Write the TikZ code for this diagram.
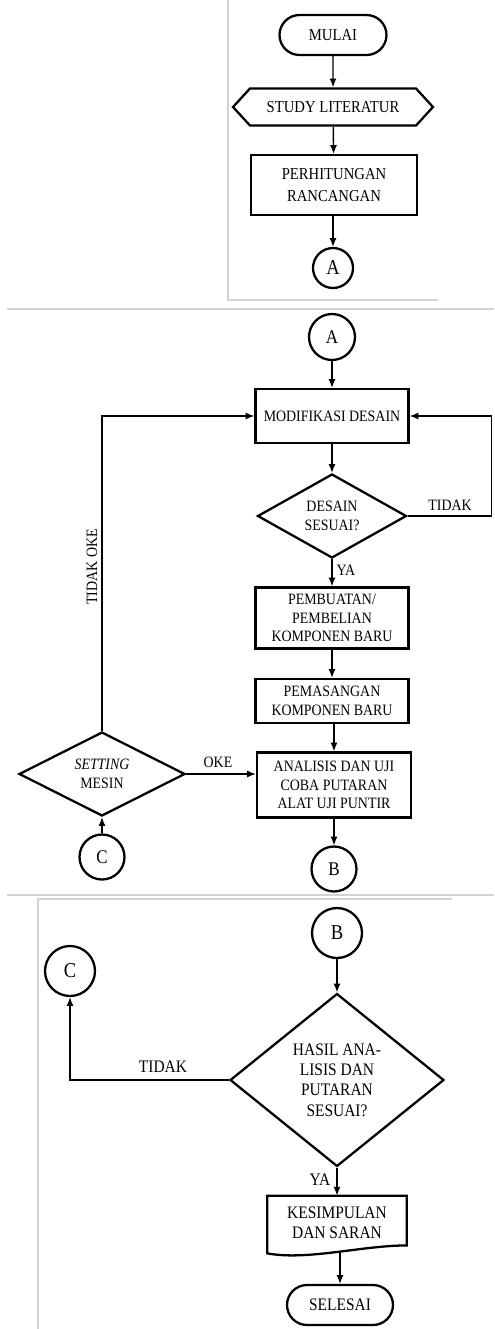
\documentclass[tikz,border=0pt]{standalone}
\usepackage{fontspec}
\setmainfont{Liberation Serif}[FakeStretch=0.88]
\usetikzlibrary{shapes.geometric,shapes.symbols,arrows.meta}
\begin{document}
\begin{tikzpicture}[x=0.02cm,y=-0.02cm,
  every node/.style={font=\fontsize{9}{10.5}\selectfont,align=center,inner sep=1pt},
  proses/.style={draw,line width=1.3pt,rectangle,minimum width=3.06cm},
  terminal/.style={draw,line width=1.3pt,rectangle,rounded corners=0.4cm,minimum height=0.8cm},
  keputusan/.style={draw,line width=1.3pt,diamond,inner sep=0pt},
  konektor/.style={draw,line width=1.3pt,circle,inner sep=0pt,font=\fontsize{12}{12}\selectfont},
  panah/.style={-{Latex[length=5pt,width=4pt]},line width=0.8pt},
  bingkai/.style={gray!35,line width=0.6pt}]
\useasboundingbox (0,0) rectangle (494,1329);
%
\draw[bingkai](228,0)--(228,300)--(438,300);
\draw[bingkai](7,309)--(494,309);
\draw[bingkai](7,895)--(494,895);
\draw[bingkai](452,899)--(38,899)--(38,1329);
%===========================
\node[terminal,minimum width=2.14cm,font=\fontsize{9.5}{11}\selectfont](mulai) at (333,35){MULAI};
\node[draw,line width=1.3pt,signal,signal to=west and east,signal pointer angle=95,
  minimum width=4cm,minimum height=0.74cm,inner sep=0pt,font=\fontsize{9.5}{11}\selectfont](studi) at (333,107){STUDY LITERATUR};
\node[proses,minimum width=3.32cm,minimum height=1.2cm,font=\fontsize{9.5}{13}\selectfont](hitung) at (334,185){PERHITUNGAN\\RANCANGAN};
\node[konektor,minimum size=0.8cm](ka) at (333,268){A};
\draw[panah](mulai)--(studi);
\draw[panah](studi)--(hitung);
\draw[panah](hitung.south-|ka)--(ka);
%===========================
\node[konektor,minimum size=0.92cm,font=\fontsize{11}{11}\selectfont](kaa) at (332,337){A};
\node[proses,minimum height=1.08cm](modif) at (332,416){MODIFIKASI DESAIN};
\node[keputusan,minimum width=2.98cm,minimum height=1.64cm](desain) at (332,516){DESAIN\\SESUAI?};
\node[proses,minimum height=1.22cm](buat) at (332,618){PEMBUATAN/\\PEMBELIAN\\KOMPONEN BARU};
\node[proses,minimum height=0.88cm](pasang) at (332,701){PEMASANGAN\\KOMPONEN BARU};
\node[proses,minimum width=3.08cm,minimum height=1.3cm](uji) at (334,785){ANALISIS DAN UJI\\COBA PUTARAN\\ALAT UJI PUNTIR};
\node[konektor,minimum size=0.9cm,font=\fontsize{11}{11}\selectfont](kb) at (334,869){B};
\node[keputusan,minimum width=3.32cm,minimum height=1.64cm](setting) at (102,774){\textit{SETTING}\\MESIN};
\node[konektor,minimum size=0.9cm,font=\fontsize{11}{11}\selectfont](kc) at (102,857){C};
%
\draw[panah](kaa)--(modif);
\draw[panah](modif)--(desain);
\draw[panah](desain.east)--++(84,0)|-(modif.east);
\node(ltidak) at (450,505){TIDAK};
\draw[panah](desain)--(buat);
\node(lya) at (346,570){YA};
\draw[panah](buat)--(pasang);
\draw[panah](pasang.south-|uji)--(uji);
\draw[panah](uji)--(kb);
\draw[panah](setting.east)--(setting.east-|uji.west);
\node(loke) at (218,762){OKE};
\draw[panah](setting.north)|-(modif.west);
\node[rotate=90](ltidakoke) at (92,567){TIDAK OKE};
\draw[panah](kc)--(setting.south);
%================================
\node[konektor,minimum size=1cm](kbb) at (337,933){B};
\node[konektor,minimum size=1cm](kcc) at (70,971){C};
\node[keputusan,minimum width=4.28cm,minimum height=3.46cm,font=\fontsize{10}{11.5}\selectfont](hasil) at (337,1080){HASIL ANA-\\LISIS DAN\\PUTARAN\\SESUAI?};
\node[minimum width=2.78cm,minimum height=1.08cm,inner sep=0pt,font=\fontsize{10}{11.5}\selectfont](simpul) at (337,1223){KESIMPULAN\\DAN SARAN};
\draw[line width=1.3pt](simpul.north west)--(simpul.north east)--([yshift=2.8pt]simpul.south east)
  .. controls +(-0.9cm,0cm) and +(0.8cm,-0.15cm) .. ([yshift=-1.7pt]simpul.south west)--cycle;
\node[terminal,minimum width=2.12cm,font=\fontsize{10}{11.5}\selectfont](selesai) at (340,1305){SELESAI};
%
\draw[panah](kbb)--(hasil);
\draw[panah](hasil.west)-|(kcc.south);
\node(ltidak2) at (163,1067){\fontsize{10}{11.5}\selectfont TIDAK};
\draw[panah](hasil)--(simpul);
\node(lya2) at (320,1180){\fontsize{10}{11.5}\selectfont YA};
\draw[panah]([yshift=-1pt]simpul.south-|selesai)--(selesai);
\end{tikzpicture}
\end{document}
